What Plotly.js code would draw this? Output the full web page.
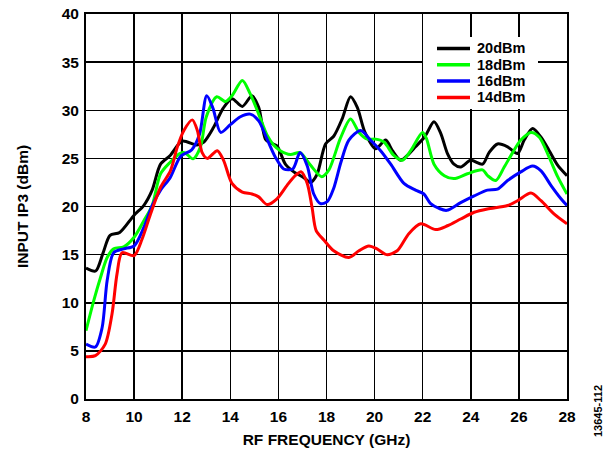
<!DOCTYPE html>
<html>
<head>
<meta charset="utf-8">
<script src="https://cdn.plot.ly/plotly-3.0.1.min.js"></script>
<style>
  html, body { margin: 0; padding: 0; background: #ffffff; }
  #chart { width: 610px; height: 453px; }
</style>
</head>
<body>
<div id="chart"></div>
<script>
// ---- data ----
const seriesNames = ["20dBm", "18dBm", "16dBm", "14dBm"];
const seriesColors = ["#000000", "#00ff00", "#0000ff", "#ff0000"];

const freq20 = [8.0, 8.4, 8.7, 9.0, 9.4, 10.0, 10.4, 10.75, 11.1, 11.5, 12.0, 12.6, 12.9, 13.3, 13.7, 14.07, 14.5, 14.9, 15.18, 15.46, 15.67, 15.94, 16.29, 16.64, 17.06, 17.33, 17.6, 17.96, 18.3, 18.65, 19.0, 19.28, 19.6, 20.04, 20.46, 20.74, 21.08, 21.36, 21.7, 22.1, 22.47, 22.75, 23.03, 23.3, 23.58, 24.0, 24.49, 24.76, 25.11, 25.53, 25.94, 26.22, 26.57, 26.92, 27.26, 27.61, 28.0];
const ip3_20 = [13.6, 13.3, 15.1, 17.0, 17.3, 19.1, 20.1, 21.7, 24.4, 25.3, 26.8, 26.4, 26.7, 28.2, 30.2, 31.2, 30.4, 31.5, 30.3, 27.0, 26.6, 26.3, 24.4, 23.6, 23.0, 22.5, 23.3, 26.5, 27.3, 29.1, 31.4, 30.3, 27.7, 26.0, 26.9, 25.8, 24.8, 25.3, 26.2, 27.3, 28.8, 27.6, 25.5, 24.4, 24.1, 24.8, 24.4, 25.6, 26.5, 26.2, 25.5, 26.9, 28.1, 27.2, 25.8, 24.3, 23.2];

const freq18 = [8.0, 8.32, 8.6, 8.88, 9.15, 9.57, 10.0, 10.4, 10.75, 11.1, 11.5, 11.9, 12.1, 12.45, 12.76, 13.0, 13.44, 13.8, 14.07, 14.5, 14.83, 15.18, 15.53, 15.8, 16.08, 16.5, 16.9, 17.33, 17.8, 18.1, 18.58, 19.0, 19.35, 19.7, 20.04, 20.39, 20.8, 21.15, 21.5, 21.99, 22.15, 22.47, 22.9, 23.3, 23.86, 24.49, 24.7, 25.04, 25.39, 25.74, 26.08, 26.5, 26.85, 27.26, 27.61, 28.0];
const ip3_18 = [7.1, 10.2, 12.6, 14.7, 15.6, 15.8, 16.8, 18.5, 20.1, 23.4, 24.6, 25.5, 25.6, 24.95, 26.2, 29.3, 31.4, 30.9, 31.5, 33.1, 31.7, 29.6, 27.4, 26.4, 25.8, 25.4, 25.6, 24.3, 23.1, 23.8, 27.1, 29.1, 27.7, 27.0, 27.0, 26.7, 25.3, 24.8, 25.8, 27.7, 27.1, 24.4, 23.2, 22.9, 23.4, 23.8, 23.2, 22.7, 24.1, 25.6, 26.9, 27.7, 27.2, 25.1, 23.1, 21.3];

const freq16 = [8.0, 8.39, 8.67, 8.88, 9.15, 9.57, 10.0, 10.4, 10.75, 11.1, 11.5, 11.93, 12.4, 12.72, 13.02, 13.28, 13.6, 14.0, 14.4, 14.83, 15.18, 15.53, 15.88, 16.22, 16.6, 16.9, 17.2, 17.47, 17.75, 18.03, 18.3, 18.6, 18.93, 19.42, 19.83, 20.25, 20.67, 21.22, 21.7, 22.05, 22.33, 22.68, 23.0, 23.58, 24.14, 24.69, 25.11, 25.53, 26.08, 26.57, 26.92, 27.33, 27.75, 28.0];
const ip3_16 = [5.7, 5.4, 7.4, 12.3, 15.2, 15.6, 15.9, 17.8, 20.1, 21.7, 23.0, 25.2, 25.9, 27.5, 31.5, 30.2, 27.7, 28.5, 29.3, 29.6, 28.9, 27.0, 25.1, 23.9, 23.9, 25.6, 24.2, 21.3, 20.3, 20.5, 21.9, 24.6, 26.9, 27.9, 26.9, 25.8, 24.4, 22.4, 21.7, 21.3, 20.3, 19.8, 19.6, 20.4, 21.1, 21.7, 21.8, 22.7, 23.6, 24.2, 23.7, 22.2, 20.8, 20.1];

const freq14 = [8.0, 8.39, 8.8, 9.08, 9.29, 9.5, 10.0, 10.33, 10.68, 11.1, 11.51, 11.8, 12.07, 12.42, 12.63, 12.83, 13.04, 13.46, 13.72, 14.07, 14.5, 14.9, 15.18, 15.53, 15.94, 16.36, 16.7, 16.95, 17.2, 17.4, 17.57, 17.9, 18.3, 18.93, 19.35, 19.76, 20.1, 20.5, 20.94, 21.43, 21.92, 22.54, 23.03, 23.58, 24.14, 24.69, 25.53, 25.94, 26.5, 26.92, 27.47, 28.0];
const ip3_14 = [4.4, 4.5, 5.7, 8.8, 13.0, 15.2, 14.9, 16.6, 19.2, 22.0, 23.7, 26.2, 27.9, 29.0, 27.9, 25.6, 25.0, 25.8, 24.8, 22.4, 21.5, 21.3, 21.0, 20.2, 20.8, 22.2, 23.2, 23.6, 22.4, 19.9, 17.5, 16.5, 15.4, 14.7, 15.4, 15.9, 15.6, 15.0, 15.4, 17.2, 18.2, 17.6, 18.0, 18.7, 19.4, 19.75, 20.1, 20.6, 21.4, 20.6, 19.2, 18.2];

const xTicks = [8, 10, 12, 14, 16, 18, 20, 22, 24, 26, 28];
const yTicks = [0, 5, 10, 15, 20, 25, 30, 35, 40];

// ---- build ----
const FONT = "Liberation Sans, Arial, Helvetica, sans-serif";
const xs = [freq20, freq18, freq16, freq14];
const ys = [ip3_20, ip3_18, ip3_16, ip3_14];

const traces = seriesNames.map((name, i) => ({
  type: "scatter",
  mode: "lines",
  name: name,
  x: xs[i],
  y: ys[i],
  line: { color: seriesColors[i], width: 3, shape: "spline", smoothing: 0.8 },
  showlegend: false,
  hoverinfo: "x+y+name"
}));

// custom legend (to match the reference's compact row spacing)
const plotL = 86, plotT = 14, plotW = 481, plotH = 385;
const px2x = p => (p - plotL) / plotW;
const px2y = p => (plotT + plotH - p) / plotH;
const legendRows = [48.5, 64.8, 81.1, 97.4];

const shapes = [{
  type: "rect", xref: "paper", yref: "paper", layer: "above",
  x0: px2x(423), x1: px2x(538), y0: px2y(109), y1: px2y(37),
  fillcolor: "#ffffff", line: { width: 0 }
}];
const annotations = [];
seriesNames.forEach((name, i) => {
  shapes.push({
    type: "line", xref: "paper", yref: "paper", layer: "above",
    x0: px2x(437), x1: px2x(470), y0: px2y(legendRows[i]), y1: px2y(legendRows[i]),
    line: { color: seriesColors[i], width: 3.5 }
  });
  annotations.push({
    xref: "paper", yref: "paper", x: px2x(475.5), y: px2y(legendRows[i]),
    xanchor: "left", yanchor: "middle", showarrow: false, borderpad: 0,
    text: name, font: { family: FONT, size: 14.5, color: "#000000", weight: "bold" }
  });
});
annotations.push({
  xref: "paper", yref: "paper", x: px2x(598), y: px2y(411),
  xanchor: "center", yanchor: "middle", showarrow: false, textangle: -90,
  text: "13645-112", font: { family: FONT, size: 11, color: "#000000" }
});

const layout = {
  width: 610, height: 453,
  margin: { l: plotL, r: 610 - plotL - plotW, t: plotT, b: 453 - plotT - plotH, pad: 0 },
  paper_bgcolor: "#ffffff", plot_bgcolor: "#ffffff",
  font: { family: FONT, size: 15.5, color: "#000000", weight: "bold" },
  showlegend: false,
  xaxis: {
    range: [8, 28], tickvals: xTicks, ticktext: xTicks.map(String),
    showgrid: true, gridcolor: "#000000", gridwidth: 1.5,
    showline: true, linecolor: "#000000", linewidth: 2, mirror: true,
    ticks: "", zeroline: false, fixedrange: true,
    ticklabelstandoff: 2,
    tickfont: { family: FONT, size: 15.5, color: "#000000", weight: "bold" },
    title: { text: "RF FREQUENCY (GHz)", standoff: 11,
             font: { family: FONT, size: 15.5, color: "#000000", weight: "bold" } }
  },
  yaxis: {
    range: [0, 40], tickvals: yTicks, ticktext: yTicks.map(String),
    showgrid: true, gridcolor: "#000000", gridwidth: 1.5,
    showline: true, linecolor: "#000000", linewidth: 2, mirror: true,
    ticks: "", zeroline: false, fixedrange: true,
    ticklabelstandoff: 2,
    tickfont: { family: FONT, size: 15.5, color: "#000000", weight: "bold" },
    title: { text: "INPUT IP3 (dBm)", standoff: 29,
             font: { family: FONT, size: 15.5, color: "#000000", weight: "bold" } }
  },
  shapes: shapes,
  annotations: annotations
};

Plotly.newPlot("chart", traces, layout, { displayModeBar: false, staticPlot: true });
</script>
</body>
</html>
